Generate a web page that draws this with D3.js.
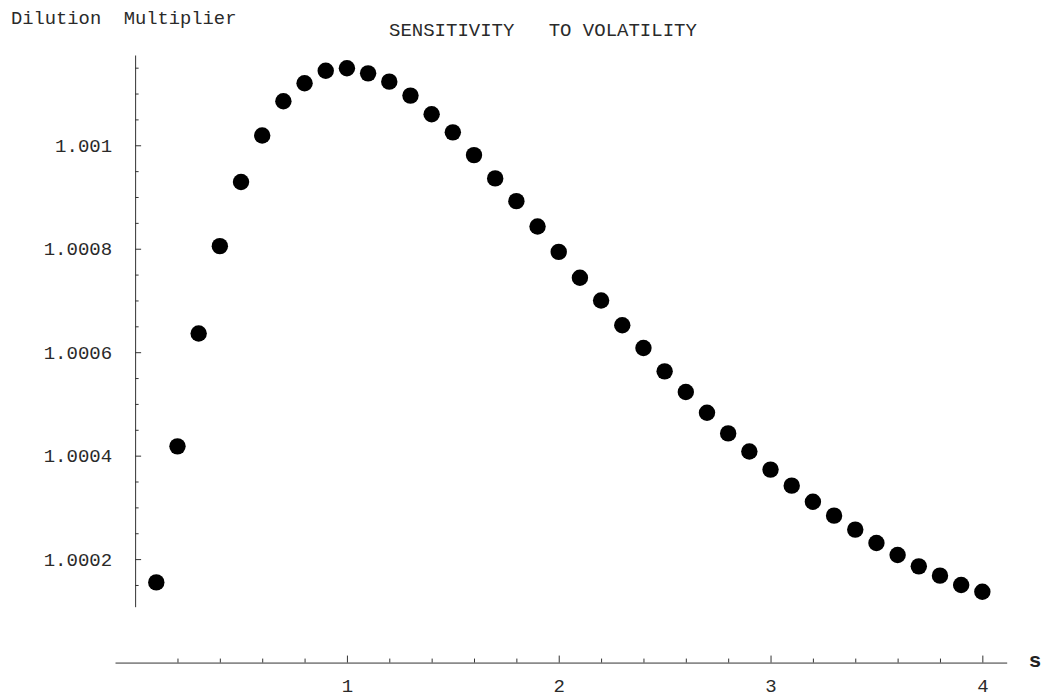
<!DOCTYPE html>
<html>
<head>
<meta charset="utf-8">
<script src="https://cdn.jsdelivr.net/npm/d3@7"></script>
<style>
  body { margin: 0; background: #fff; }
  svg { display: block; }
  text { font-family: "Liberation Mono", "DejaVu Sans Mono", monospace; fill: #2a2a2a; }
</style>
</head>
<body>
<div id="chart"></div>
<script>
// volatility s and the dilution multiplier
const sValues = [0.1, 0.2, 0.3, 0.4, 0.5, 0.6, 0.7, 0.8, 0.9, 1.0,
                 1.1, 1.2, 1.3, 1.4, 1.5, 1.6, 1.7, 1.8, 1.9, 2.0,
                 2.1, 2.2, 2.3, 2.4, 2.5, 2.6, 2.7, 2.8, 2.9, 3.0,
                 3.1, 3.2, 3.3, 3.4, 3.5, 3.6, 3.7, 3.8, 3.9, 4.0];
const multiplier = [1.000155, 1.000418, 1.000636, 1.000805, 1.000929, 1.001019, 1.001085, 1.001120, 1.001144, 1.001149,
                    1.001139, 1.001123, 1.001096, 1.001060, 1.001025, 1.000981, 1.000936, 1.000892, 1.000843, 1.000794,
                    1.000744, 1.000700, 1.000652, 1.000608, 1.000563, 1.000523, 1.000483, 1.000443, 1.000408, 1.000373,
                    1.000342, 1.000311, 1.000284, 1.000257, 1.000231, 1.000208, 1.000186, 1.000168, 1.000150, 1.000137];

const xTicks = [1, 2, 3, 4];
const yTicks = [1.0002, 1.0004, 1.0006, 1.0008, 1.001];

const width = 1045, height = 698;

const svg = d3.select("#chart").append("svg")
    .attr("width", width)
    .attr("height", height);

// plot range as Mathematica padded it; axes cross at (0, 1)
const x = d3.scaleLinear().domain([-0.095, 4.115]).range([115, 1006.7]);
const y = d3.scaleLinear().domain([1.000108, 1.0011745]).range([606.7, 55]);

const axisColor = "#333";

// x axis (ticks point up, labels below)
const xMinor = d3.range(0.2, 4, 0.2).filter(v => Math.abs(v - Math.round(v)) > 1e-6);
svg.append("g")
    .attr("transform", `translate(0,${y(1)})`)
    .call(d3.axisTop(x).tickValues(xMinor).tickSize(4).tickSizeOuter(0).tickFormat(""))
    .call(g => g.select(".domain").remove())
    .call(g => g.selectAll("line").attr("stroke", axisColor));

svg.append("g")
    .attr("transform", `translate(0,${y(1)})`)
    .call(d3.axisTop(x).tickValues(xTicks).tickSize(7).tickSizeOuter(0).tickFormat(d3.format("d")))
    .call(g => g.select(".domain").attr("stroke", axisColor))
    .call(g => g.selectAll("line").attr("stroke", axisColor))
    .call(g => g.selectAll("text")
        .attr("y", 29.5)
        .attr("dy", 0)
        .attr("font-family", null)
        .attr("font-size", 19)
        .attr("fill", null));

// y axis at s = 0 (ticks point right, labels left)
const yMinor = d3.range(1.00015, 1.00116, 0.00005).filter(v => Math.abs(v * 1e4 - Math.round(v * 1e4 / 2) * 2) > 1e-6);
svg.append("g")
    .attr("transform", `translate(${x(0)},0)`)
    .call(d3.axisRight(y).tickValues(yMinor).tickSize(3.5).tickSizeOuter(0).tickFormat(""))
    .call(g => g.select(".domain").remove())
    .call(g => g.selectAll("line").attr("stroke", axisColor));

svg.append("g")
    .attr("transform", `translate(${x(0)},0)`)
    .call(d3.axisRight(y).tickValues(yTicks).tickSize(6).tickSizeOuter(0).tickFormat(d3.format(".4~f")))
    .call(g => g.select(".domain").attr("stroke", axisColor))
    .call(g => g.selectAll("line").attr("stroke", axisColor))
    .call(g => g.selectAll("text")
        .attr("x", -23)
        .attr("text-anchor", "end")
        .attr("font-family", null)
        .attr("font-size", 19)
        .attr("fill", null));

// points
svg.append("g")
    .selectAll("circle")
    .data(sValues.map((s, i) => [s, multiplier[i]]))
    .join("circle")
    .attr("cx", d => x(d[0]))
    .attr("cy", d => y(d[1]))
    .attr("r", 8.2)
    .attr("fill", "#000");

// labels
svg.append("text")
    .attr("x", 11)
    .attr("y", 24)
    .attr("font-size", 18.8)
    .style("white-space", "pre")
    .text("Dilution  Multiplier");

svg.append("text")
    .attr("x", 389)
    .attr("y", 36)
    .attr("font-size", 19)
    .style("white-space", "pre")
    .text("SENSITIVITY   TO VOLATILITY");

svg.append("text")
    .attr("x", 1035)
    .attr("y", 667)
    .attr("text-anchor", "middle")
    .attr("font-size", 21)
    .attr("font-weight", "bold")
    .style("font-family", "'Liberation Sans', Arial, sans-serif")
    .style("fill", "#222")
    .text("s");
</script>
</body>
</html>
